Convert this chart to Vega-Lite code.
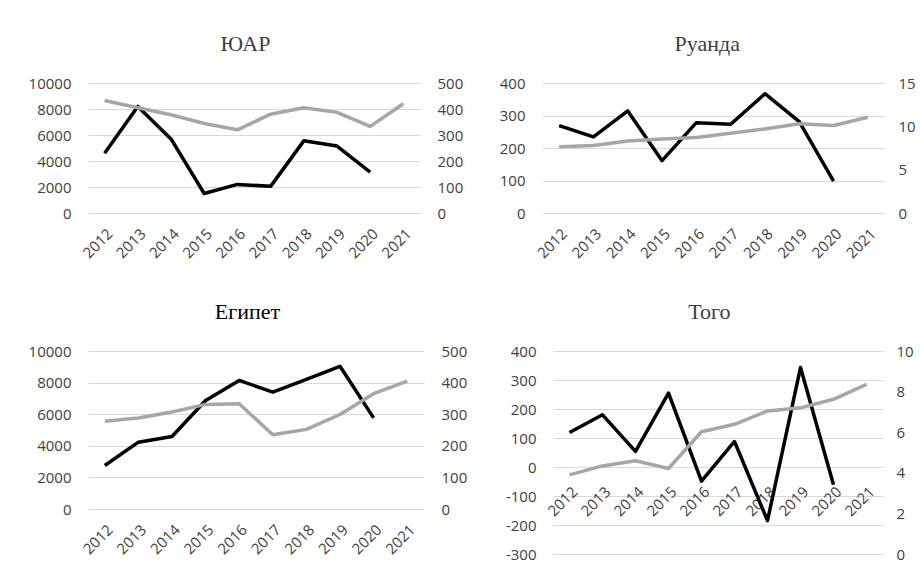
{
 "$schema": "https://vega.github.io/schema/vega-lite/v6.json",
 "padding": {"left": 28, "top": 33, "right": 0, "bottom": 0},
 "background": "white",
 "config": {
   "view": {"stroke": null},
   "font": "Open Sans",
   "title": {"font": "Liberation Serif", "fontSize": 22, "fontWeight": "normal", "color": "#404040", "anchor": "middle", "frame": "bounds", "offset": 20},
   "axis": {"labelFont": "Open Sans", "labelFontSize": 15, "labelColor": "#404040", "ticks": false, "domain": false, "title": null, "gridColor": "#d9d9d9", "labelPadding": 17, "labelExpr": "'' + datum.value"}
 },
 "datasets": {
  "d": [
   {"c": "ЮАР", "year": "2012", "a": 4600, "b": 433},
   {"c": "ЮАР", "year": "2013", "a": 8200, "b": 405},
   {"c": "ЮАР", "year": "2014", "a": 5700, "b": 378},
   {"c": "ЮАР", "year": "2015", "a": 1500, "b": 344},
   {"c": "ЮАР", "year": "2016", "a": 2200, "b": 320},
   {"c": "ЮАР", "year": "2017", "a": 2050, "b": 380},
   {"c": "ЮАР", "year": "2018", "a": 5550, "b": 405},
   {"c": "ЮАР", "year": "2019", "a": 5150, "b": 387},
   {"c": "ЮАР", "year": "2020", "a": 3150, "b": 333},
   {"c": "ЮАР", "year": "2021", "a": null, "b": 420},
   {"c": "Руанда", "year": "2012", "a": 269, "b": 7.65},
   {"c": "Руанда", "year": "2013", "a": 234, "b": 7.8},
   {"c": "Руанда", "year": "2014", "a": 314, "b": 8.3},
   {"c": "Руанда", "year": "2015", "a": 161, "b": 8.55},
   {"c": "Руанда", "year": "2016", "a": 278, "b": 8.7},
   {"c": "Руанда", "year": "2017", "a": 273, "b": 9.2},
   {"c": "Руанда", "year": "2018", "a": 367, "b": 9.7},
   {"c": "Руанда", "year": "2019", "a": 281, "b": 10.3},
   {"c": "Руанда", "year": "2020", "a": 98, "b": 10.1},
   {"c": "Руанда", "year": "2021", "a": null, "b": 11.05},
   {"c": "Египет", "year": "2012", "a": 2750, "b": 278},
   {"c": "Египет", "year": "2013", "a": 4230, "b": 288},
   {"c": "Египет", "year": "2014", "a": 4590, "b": 307},
   {"c": "Египет", "year": "2015", "a": 6870, "b": 331},
   {"c": "Египет", "year": "2016", "a": 8140, "b": 333},
   {"c": "Египет", "year": "2017", "a": 7400, "b": 235},
   {"c": "Египет", "year": "2018", "a": 8200, "b": 252},
   {"c": "Египет", "year": "2019", "a": 9030, "b": 299},
   {"c": "Египет", "year": "2020", "a": 5770, "b": 365},
   {"c": "Египет", "year": "2021", "a": null, "b": 405},
   {"c": "Того", "year": "2012", "a": 119, "b": 3.9},
   {"c": "Того", "year": "2013", "a": 180, "b": 4.34},
   {"c": "Того", "year": "2014", "a": 54, "b": 4.59},
   {"c": "Того", "year": "2015", "a": 255, "b": 4.21},
   {"c": "Того", "year": "2016", "a": -49, "b": 6.02},
   {"c": "Того", "year": "2017", "a": 88, "b": 6.39},
   {"c": "Того", "year": "2018", "a": -185, "b": 7.05},
   {"c": "Того", "year": "2019", "a": 343, "b": 7.2},
   {"c": "Того", "year": "2020", "a": -61, "b": 7.62},
   {"c": "Того", "year": "2021", "a": null, "b": 8.36}
  ]
 },
 "spacing": 40,
 "vconcat": [
  {
   "spacing": 36,
   "hconcat": [
    {
     "title": "ЮАР",
     "width": 332, "height": 130,
     "data": {"name": "d"},
     "transform": [{"filter": "datum.c === 'ЮАР'"}],
     "encoding": {"x": {"field": "year", "type": "ordinal", "axis": {"labelAngle": -45, "labelPadding": 13, "grid": false}}},
     "layer": [
      {"mark": {"type": "line", "color": "#000000", "strokeWidth": 3.5, "strokeJoin": "round"},
       "encoding": {"y": {"field": "a", "type": "quantitative", "scale": {"domain": [0, 10000], "nice": false}, "axis": {"orient": "left", "values": [0, 2000, 4000, 6000, 8000, 10000], "grid": true}}}},
      {"mark": {"type": "line", "color": "#a6a6a6", "strokeWidth": 3.5, "strokeJoin": "round"},
       "encoding": {"y": {"field": "b", "type": "quantitative", "scale": {"domain": [0, 500], "nice": false}, "axis": {"orient": "right", "values": [0, 100, 200, 300, 400, 500], "grid": false}}}}
     ],
     "resolve": {"scale": {"y": "independent"}, "axis": {"y": "independent"}}
    },
    {
     "title": "Руанда",
     "width": 343, "height": 130,
     "data": {"name": "d"},
     "transform": [{"filter": "datum.c === 'Руанда'"}],
     "encoding": {"x": {"field": "year", "type": "ordinal", "axis": {"labelAngle": -45, "labelPadding": 13, "grid": false}}},
     "layer": [
      {"mark": {"type": "line", "color": "#000000", "strokeWidth": 3.5, "strokeJoin": "round"},
       "encoding": {"y": {"field": "a", "type": "quantitative", "scale": {"domain": [0, 400], "nice": false}, "axis": {"orient": "left", "values": [0, 100, 200, 300, 400], "grid": true}}}},
      {"mark": {"type": "line", "color": "#a6a6a6", "strokeWidth": 3.5, "strokeJoin": "round"},
       "encoding": {"y": {"field": "b", "type": "quantitative", "scale": {"domain": [0, 15], "nice": false}, "axis": {"orient": "right", "values": [0, 5, 10, 15], "grid": false, "labelPadding": 13}}}}
     ],
     "resolve": {"scale": {"y": "independent"}, "axis": {"y": "independent"}}
    }
   ]
  },
  {
   "spacing": 38,
   "hconcat": [
    {
     "title": {"text": "Египет", "color": "#000000"},
     "width": 336, "height": 158,
     "data": {"name": "d"},
     "transform": [{"filter": "datum.c === 'Египет'"}],
     "encoding": {"x": {"field": "year", "type": "ordinal", "axis": {"labelAngle": -45, "labelPadding": 13, "grid": false}}},
     "layer": [
      {"mark": {"type": "line", "color": "#000000", "strokeWidth": 3.5, "strokeJoin": "round"},
       "encoding": {"y": {"field": "a", "type": "quantitative", "scale": {"domain": [0, 10000], "nice": false}, "axis": {"orient": "left", "values": [0, 2000, 4000, 6000, 8000, 10000], "grid": true}}}},
      {"mark": {"type": "line", "color": "#a6a6a6", "strokeWidth": 3.5, "strokeJoin": "round"},
       "encoding": {"y": {"field": "b", "type": "quantitative", "scale": {"domain": [0, 500], "nice": false}, "axis": {"orient": "right", "values": [0, 100, 200, 300, 400, 500], "grid": false}}}}
     ],
     "resolve": {"scale": {"y": "independent"}, "axis": {"y": "independent"}}
    },
    {
     "title": "Того",
     "width": 330, "height": 203,
     "data": {"name": "d"},
     "transform": [{"filter": "datum.c === 'Того'"}],
     "encoding": {"x": {"field": "year", "type": "ordinal", "axis": {"labelAngle": -45, "labelPadding": 13, "grid": false, "offset": -83}}},
     "layer": [
      {"mark": {"type": "line", "color": "#000000", "strokeWidth": 3.5, "strokeJoin": "round"},
       "encoding": {"y": {"field": "a", "type": "quantitative", "scale": {"domain": [-300, 400], "nice": false}, "axis": {"orient": "left", "values": [-300, -200, -100, 0, 100, 200, 300, 400], "grid": true}}}},
      {"mark": {"type": "line", "color": "#a6a6a6", "strokeWidth": 3.5, "strokeJoin": "round"},
       "encoding": {"y": {"field": "b", "type": "quantitative", "scale": {"domain": [0, 10], "nice": false}, "axis": {"orient": "right", "values": [0, 2, 4, 6, 8, 10], "grid": false, "labelPadding": 13}}}}
     ],
     "resolve": {"scale": {"y": "independent"}, "axis": {"y": "independent"}}
    }
   ]
  }
 ]
}
